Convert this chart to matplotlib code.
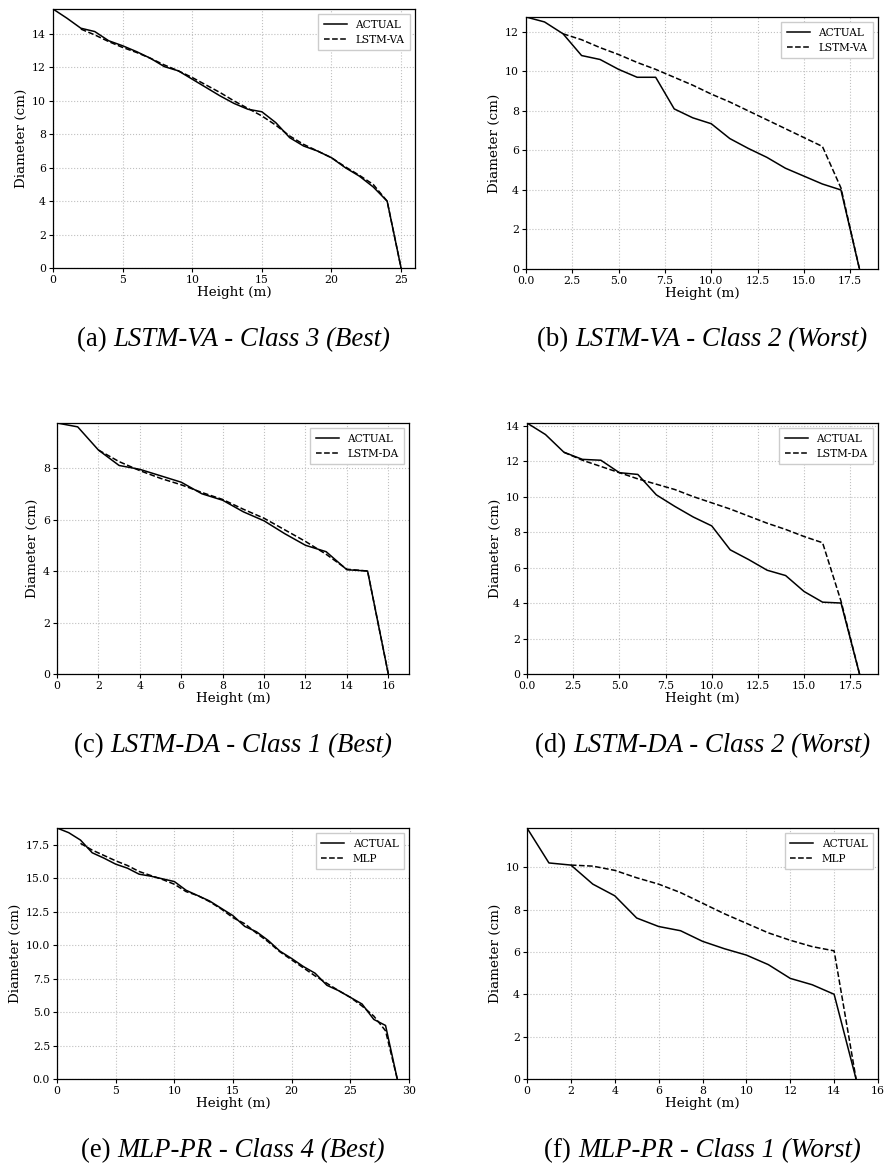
import numpy as np
import matplotlib
matplotlib.use('Agg')
import matplotlib.pyplot as plt

plt.rcParams['font.family'] = 'DejaVu Serif'

# measured stem profiles, diameter (cm) per metre of height
actual_a = [15.5, 14.95, 14.35, 14.15, 13.6, 13.3, 12.95, 12.55, 12.05, 11.8, 11.3, 10.8, 10.3,
            9.85, 9.5, 9.35, 8.7, 7.8, 7.3, 7.0, 6.6, 6.0, 5.5, 4.85, 4.0, 0.0]
pred_a = [14.3, 13.95, 13.55, 13.2, 12.9, 12.55, 12.15, 11.8, 11.4, 10.95, 10.5, 10.0,
          9.55, 9.1, 8.55, 7.9, 7.4, 7.0, 6.6, 6.05, 5.55, 5.0, 4.0, 0.0]

actual_b = [12.75, 12.5, 11.9, 10.8, 10.6, 10.1, 9.7, 9.7, 8.1, 7.65, 7.35, 6.6, 6.1, 5.65,
            5.1, 4.7, 4.3, 4.0, 0.0]
pred_b = [11.9, 11.6, 11.2, 10.85, 10.45, 10.1, 9.7, 9.3, 8.85, 8.45, 8.0, 7.55, 7.1, 6.65,
          6.2, 4.1, 0.0]

actual_c = [9.75, 9.6, 8.7, 8.1, 7.95, 7.7, 7.45, 7.0, 6.75, 6.3, 5.95, 5.45, 5.0, 4.75,
            4.05, 4.0, 0.0]
pred_c = [8.7, 8.25, 7.9, 7.6, 7.35, 7.05, 6.78, 6.4, 6.05, 5.6, 5.15, 4.65, 4.07, 4.0, 0.0]

actual_d = [14.15, 13.5, 12.5, 12.1, 12.05, 11.35, 11.25, 10.1, 9.45, 8.85, 8.35, 7.0, 6.45,
            5.85, 5.55, 4.65, 4.05, 4.0, 0.0]
pred_d = [12.5, 12.05, 11.7, 11.35, 11.0, 10.7, 10.4, 10.0, 9.65, 9.3, 8.9, 8.5, 8.15, 7.75,
          7.4, 4.1, 0.0]

actual_e = [18.75, 18.4, 17.85, 16.9, 16.5, 16.05, 15.75, 15.3, 15.15, 14.95, 14.75, 14.1,
            13.7, 13.3, 12.75, 12.2, 11.4, 11.0, 10.35, 9.55, 9.0, 8.4, 7.9, 7.0, 6.6, 6.1,
            5.6, 4.45, 4.0, 0.0]
pred_e = [17.6, 17.1, 16.7, 16.3, 15.95, 15.5, 15.2, 14.9, 14.55, 14.0, 13.7, 13.25, 12.7,
          12.05, 11.6, 10.9, 10.25, 9.5, 8.9, 8.3, 7.7, 7.15, 6.6, 6.1, 5.45, 4.7, 3.6, 0.0]

actual_f = [11.85, 10.2, 10.1, 9.2, 8.65, 7.6, 7.2, 7.0, 6.5, 6.15, 5.85, 5.4, 4.75, 4.45,
            4.0, 0.0]
pred_f = [10.1, 10.05, 9.85, 9.5, 9.2, 8.8, 8.3, 7.8, 7.35, 6.9, 6.55, 6.25, 6.05, 0.0]

model_names = ['LSTM-VA', 'LSTM-VA', 'LSTM-DA', 'LSTM-DA', 'MLP', 'MLP']
captions = [('(a) ', 'LSTM-VA - Class 3 (Best)'),
            ('(b) ', 'LSTM-VA - Class 2 (Worst)'),
            ('(c) ', 'LSTM-DA - Class 1 (Best)'),
            ('(d) ', 'LSTM-DA - Class 2 (Worst)'),
            ('(e) ', 'MLP-PR - Class 4 (Best)'),
            ('(f) ', 'MLP-PR - Class 1 (Worst)')]
actuals = [actual_a, actual_b, actual_c, actual_d, actual_e, actual_f]
preds = [pred_a, pred_b, pred_c, pred_d, pred_e, pred_f]

W, H = 887, 1166
fig = plt.figure(figsize=(W / 100, H / 100), dpi=100)

# axes boxes in pixels: left, top, right, bottom
boxes = [(53, 9, 415, 268), (526, 17, 878, 269),
         (57, 423, 409, 674), (527, 423, 878, 674),
         (57, 828, 409, 1079), (527, 828, 878, 1079)]
caption_y = [340, 340, 746, 746, 1151, 1151]

axes = []
for k in range(6):
    l, t, r, b = boxes[k]
    ax = fig.add_axes([l / W, 1 - b / H, (r - l) / W, (b - t) / H])
    act = np.array(actuals[k])
    pr = np.array(preds[k])
    x_act = np.arange(len(act))
    x_pr = np.arange(len(act) - len(pr), len(act))
    ax.plot(x_act, act, 'k-', lw=1.1, label='ACTUAL')
    ax.plot(x_pr, pr, 'k--', lw=1.1, label=model_names[k])
    ax.set_xlim(0, len(act))
    ax.set_ylim(0, act.max())
    ax.grid(True, linestyle=':', color='#c0c0c0', lw=0.8)
    ax.tick_params(labelsize=7.8, length=3, width=0.8, pad=2)
    for s in ax.spines.values():
        s.set_linewidth(0.9)
    ax.set_xlabel('Height (m)', fontsize=9.7, labelpad=1)
    ax.set_ylabel('Diameter (cm)', fontsize=9.7, labelpad=3)
    ax.legend(loc='upper right', fontsize=7.6, handlelength=2.2, borderpad=0.5,
              labelspacing=0.5, fancybox=False, framealpha=1, edgecolor='#cccccc')
    axes.append(ax)

# sub-figure captions, upright label followed by italic title
fig.canvas.draw()
renderer = fig.canvas.get_renderer()
for k in range(6):
    l, t, r, b = boxes[k]
    cx = (l + r) / 2
    y = 1 - caption_y[k] / H
    t1 = fig.text(0, y, captions[k][0], family='Liberation Serif', fontsize=19.3,
                  va='center', ha='left')
    t2 = fig.text(0, y, captions[k][1], family='Liberation Serif', fontsize=19.3,
                  style='italic', va='center', ha='left')
    w1 = t1.get_window_extent(renderer).width
    w2 = t2.get_window_extent(renderer).width
    x0 = cx - (w1 + w2) / 2
    t1.set_x(x0 / W)
    t2.set_x((x0 + w1) / W)

fig.savefig('out.png', dpi=100)
